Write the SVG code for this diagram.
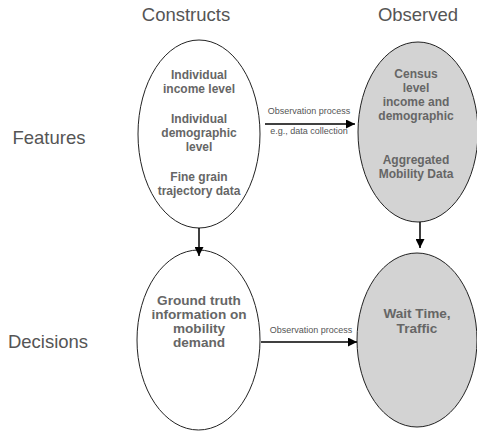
<svg xmlns="http://www.w3.org/2000/svg" width="477" height="434" viewBox="0 0 477 434">
<style>
.title{font-family:"Liberation Sans",Arial,sans-serif;font-size:18.5px;fill:#555;}
.row{font-family:"Liberation Sans",Arial,sans-serif;font-size:18.5px;fill:#555;}
.node{stroke:#222;stroke-width:1;}
.white{fill:#fff;}
.gray{fill:#d3d3d3;}
.t12{font-family:"Liberation Sans",Arial,sans-serif;font-size:12px;font-weight:bold;fill:#666;text-anchor:middle;}
.t14{font-family:"Liberation Sans",Arial,sans-serif;font-size:13.6px;font-weight:bold;fill:#666;text-anchor:middle;}
.lbl{font-family:"Liberation Sans",Arial,sans-serif;font-size:9px;fill:#555;text-anchor:middle;}
.edge{stroke:#000;stroke-width:1.5;fill:none;marker-end:url(#arr);}
</style>
<defs>
<marker id="arr" viewBox="0 0 10 10" refX="10" refY="5" markerWidth="6" markerHeight="6" markerUnits="strokeWidth" orient="auto">
<path d="M0,0 L10,5 L0,10 Z" fill="#000"/>
</marker>
</defs>
<rect width="477" height="434" fill="#fff"/>
<g id="headers">
<text class="title" x="186" y="21" text-anchor="middle">Constructs</text>
<text class="title" x="418" y="21" text-anchor="middle">Observed</text>
<text class="row" x="49" y="144" text-anchor="middle">Features</text>
<text class="row" x="48" y="348" text-anchor="middle">Decisions</text>
</g>
<g id="constructs-features">
<ellipse class="node white" cx="199" cy="134" rx="61" ry="94"/>
<text class="t12" x="199" y="79">Individual</text>
<text class="t12" x="199" y="93">income level</text>
<text class="t12" x="199" y="123">Individual</text>
<text class="t12" x="199" y="137">demographic</text>
<text class="t12" x="199" y="151">level</text>
<text class="t12" x="199" y="181">Fine grain</text>
<text class="t12" x="199" y="195">trajectory data</text>
</g>
<g id="observed-features">
<ellipse class="node gray" cx="418" cy="132" rx="60" ry="90"/>
<text class="t12" x="416" y="78">Census</text>
<text class="t12" x="416" y="92">level</text>
<text class="t12" x="416" y="106">income and</text>
<text class="t12" x="416" y="120">demographic</text>
<text class="t12" x="416" y="164">Aggregated</text>
<text class="t12" x="416" y="178">Mobility Data</text>
</g>
<g id="constructs-decisions">
<ellipse class="node white" cx="198.5" cy="340" rx="61.5" ry="90"/>
<text class="t14" x="199" y="305">Ground truth</text>
<text class="t14" x="199" y="319">information on</text>
<text class="t14" x="199" y="333">mobility</text>
<text class="t14" x="199" y="347">demand</text>
</g>
<g id="observed-decisions">
<ellipse class="node gray" cx="417" cy="340" rx="60" ry="87"/>
<text class="t14" x="417" y="318">Wait Time,</text>
<text class="t14" x="417" y="333">Traffic</text>
</g>
<g id="connectors">
<line class="edge" x1="265" y1="124" x2="355" y2="124"/>
<line class="edge" x1="261" y1="342" x2="357" y2="342"/>
<line class="edge" x1="199" y1="228" x2="199" y2="256"/>
<line class="edge" x1="420" y1="222" x2="420" y2="248"/>
<text class="lbl" x="309" y="114">Observation process</text>
<text class="lbl" x="309" y="134">e.g., data collection</text>
<text class="lbl" x="311" y="333">Observation process</text>
</g>
</svg>
